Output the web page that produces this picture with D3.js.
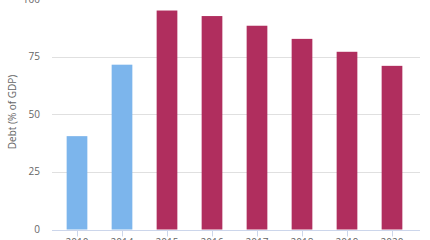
<!DOCTYPE html>
<html>
<head>
<meta charset="utf-8">
<script src="https://cdn.jsdelivr.net/npm/d3@7"></script>
<style>
  body { margin: 0; background: #fff; }
  svg { display: block; font-family: "Open Sans", "Noto Sans", sans-serif; }
</style>
</head>
<body>
<svg id="chart"></svg>
<script>
// Data
const years = ["2010", "2014", "2015", "2016", "2017", "2018", "2019", "2020"];
const debt = [40.5, 71.5, 95, 92.6, 88.4, 82.7, 77.1, 71];
const kinds = ["actual", "actual", "forecast", "forecast", "forecast", "forecast", "forecast", "forecast"];
const yTicks = [0, 25, 50, 75, 100];

const colors = { actual: "#7cb5ec", forecast: "#b02e5e" };

const width = 430, height = 240;

const svg = d3.select("#chart")
    .attr("width", width)
    .attr("height", height);

// Scales
const x = d3.scaleBand()
    .domain(years)
    .range([54.5, 414.5])
    .paddingInner(0.54)
    .paddingOuter(0.27);

const y = d3.scaleLinear()
    .domain([0, 100])
    .range([229.5, -1]);

// Gridlines
svg.append("g")
    .selectAll("line")
    .data(yTicks)
    .enter().append("line")
    .attr("x1", 52)
    .attr("x2", 420)
    .attr("y1", d => Math.round(y(d)) + 0.5)
    .attr("y2", d => Math.round(y(d)) + 0.5)
    .attr("stroke", d => d === 0 ? "#ccd6eb" : "#e0e0e0")
    .attr("stroke-width", 1);

// Y labels
svg.append("g")
    .selectAll("text")
    .data(yTicks)
    .enter().append("text")
    .attr("x", 40)
    .attr("y", d => y(d))
    .attr("dy", "0.35em")
    .attr("text-anchor", "end")
    .attr("fill", "#666")
    .style("font-size", "10px")
    .text(d => d);

// Bars
svg.selectAll(".bar")
    .data(years)
    .enter().append("rect")
    .attr("class", "bar")
    .attr("x", d => x(d))
    .attr("width", x.bandwidth())
    .attr("y", (d, i) => y(debt[i]))
    .attr("height", (d, i) => y(0) - y(debt[i]))
    .attr("fill", (d, i) => colors[kinds[i]]);

// X axis ticks + labels
const xAxis = svg.append("g")
    .attr("transform", "translate(0," + (Math.round(y(0)) + 0.5) + ")");

xAxis.selectAll("line")
    .data(years)
    .enter().append("line")
    .attr("x1", d => Math.round(x(d) + x.bandwidth() / 2) + 0.5)
    .attr("x2", d => Math.round(x(d) + x.bandwidth() / 2) + 0.5)
    .attr("y1", 0)
    .attr("y2", 6)
    .attr("stroke", "#ccd6eb");

xAxis.selectAll("text")
    .data(years)
    .enter().append("text")
    .attr("x", d => x(d) + x.bandwidth() / 2)
    .attr("y", 15)
    .attr("text-anchor", "middle")
    .attr("fill", "#666")
    .style("font-size", "10px")
    .text(d => d);

// Y axis title
svg.append("text")
    .attr("transform", "translate(12," + 112 + ") rotate(-90)")
    .attr("text-anchor", "middle")
    .attr("dy", "0.35em")
    .attr("fill", "#666")
    .style("font-size", "10px")
    .text("Debt (% of GDP)");
</script>
</body>
</html>
